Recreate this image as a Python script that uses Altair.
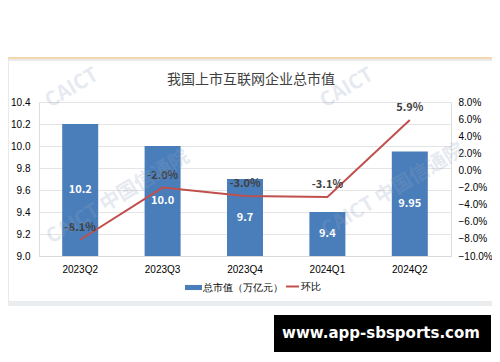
import altair as alt
import pandas as pd

# ---- data ----
quarters = ["2023Q2", "2023Q3", "2023Q4", "2024Q1", "2024Q2"]
market_cap = [10.2, 10.0, 9.7, 9.4, 9.95]
cap_labels = ["10.2", "10.0", "9.7", "9.4", "9.95"]
qoq = [-8.1, -2.0, -3.0, -3.1, 5.9]
qoq_labels = ["-8.1%", "-2.0%", "-3.0%", "-3.1%", "5.9%"]
left_ticks = [9.0, 9.2, 9.4, 9.6, 9.8, 10.0, 10.2, 10.4]
right_ticks = [-10, -8, -6, -4, -2, 0, 2, 4, 6, 8]
chart_title = "我国上市互联网企业总市值"
bar_series = "总市值（万亿元）"
line_series = "环比"
watermark_full = "CAICT 中国信通院"
watermark_part = "CAICT"
site_text = "www.app-sbsports.com"

BLUE = "#4a7ebb"
RED = "#c0504d"
FONT = "Noto Sans CJK SC"
W, H = 412, 154

df = pd.DataFrame({
    "quarter": quarters,
    "cap": market_cap,
    "cap_label": cap_labels,
    "qoq": qoq,
    "qoq_label": qoq_labels,
    "bar_series": [bar_series] * len(quarters),
    "line_series": [line_series] * len(quarters),
})

x_enc = alt.X("quarter:N", sort=quarters,
              scale=alt.Scale(paddingInner=0, paddingOuter=0),
              axis=alt.Axis(title=None, ticks=False, domainColor="#d9d9d9",
                            labelPadding=8, labelAngle=0))

base = alt.Chart(df)
cap_scale = alt.Scale(domain=[9.0, 10.4], zero=False, nice=False)
qoq_scale = alt.Scale(domain=[-10, 8], nice=False)

bars = base.mark_bar(size=36).encode(
    x=x_enc,
    y=alt.Y("cap:Q", scale=cap_scale,
            axis=alt.Axis(title=None, orient="left", values=left_ticks, format=".1f",
                          grid=True, gridColor="#e4e4e4", domain=False, ticks=False,
                          labelPadding=9)),
    y2=alt.datum(9.0),
    fill=alt.Fill("bar_series:N", scale=alt.Scale(domain=[bar_series], range=[BLUE]),
                  legend=alt.Legend(title=None, orient="none", legendX=146, legendY=177,
                                    symbolType="M-1,-0.3H1V0.3H-1Z", symbolSize=289,
                                    symbolStrokeWidth=0, labelOffset=1)),
)
bar_text = base.transform_calculate(mid="(datum.cap + 9.0) / 2").mark_text(
    color="white", fontWeight="bold", fontSize=11, font=FONT, baseline="middle"
).encode(
    x=x_enc,
    y=alt.Y("mid:Q", scale=cap_scale, axis=None),
    text="cap_label:N",
)

line = base.mark_line(strokeWidth=2).encode(
    x=x_enc,
    y=alt.Y("qoq:Q", scale=qoq_scale,
            axis=alt.Axis(title=None, orient="right", values=right_ticks,
                          labelExpr="format(datum.value, '.1f') + '%'",
                          grid=False, domain=False, ticks=False, labelPadding=7)),
    stroke=alt.Stroke("line_series:N", scale=alt.Scale(domain=[line_series], range=[RED]),
                      legend=alt.Legend(title=None, orient="none", legendX=246, legendY=177,
                                        symbolType="stroke", symbolSize=169,
                                        symbolStrokeWidth=2, labelOffset=1)),
)
line_text = base.mark_text(
    dy=-12, fontWeight="bold", fontSize=11, font=FONT, color="#404040"
).encode(x=x_enc, y=alt.Y("qoq:Q", scale=qoq_scale, axis=None), text="qoq_label:N")

# ---- decorations ----
one = alt.Chart(pd.DataFrame({"k": [0]}))
card = one.mark_rect(filled=False, stroke="#e3e3e3", strokeWidth=1.5).encode(
    x=alt.value(-31), x2=alt.value(460), y=alt.value(-42), y2=alt.value(200))
shadow = one.mark_rect(fill="#e9edf0").encode(
    x=alt.value(-31), x2=alt.value(460), y=alt.value(200), y2=alt.value(204))
top_rule = one.mark_rule(color="#f0c894", strokeWidth=1.5).encode(
    x=alt.value(-32), x2=alt.value(460), y=alt.value(-44))

wm = pd.DataFrame({
    "txt": [watermark_full, watermark_full, watermark_part, watermark_part],
    "px": [79, 354, 33, 308],
    "py": [95, 88, -14, -14],
})
watermarks = alt.Chart(wm).mark_text(
    angle=329, fontSize=20, fontWeight="bold", font=FONT, color="#8fa3bf", opacity=0.22
).encode(x=alt.X("px:Q", scale=None), y=alt.Y("py:Q", scale=None), text="txt:N")

site_box = one.mark_rect(fill="black").encode(
    x=alt.value(235), x2=alt.value(452), y=alt.value(213), y2=alt.value(250))
site = one.transform_calculate(t=f"'{site_text}'").mark_text(
    color="white", fontWeight="bold", fontSize=15, font="DejaVu Sans", baseline="middle"
).encode(x=alt.value(342), y=alt.value(231), text="t:N")

chart = alt.layer(
    card, shadow, top_rule, bars, bar_text, line, line_text, watermarks, site_box, site
).resolve_scale(y="independent").properties(
    width=W, height=H,
    padding={"left": 31, "top": 94, "right": 41, "bottom": 96},
    autosize=alt.AutoSizeParams(type="none"),
    title=alt.TitleParams(chart_title, fontSize=14, font=FONT, color="#404040",
                          fontWeight="normal", anchor="middle", offset=-30, dx=6),
).configure_view(stroke=None).configure_axis(
    labelFont=FONT, labelFontSize=10, labelColor="#595959"
).configure_legend(
    labelFont=FONT, labelFontSize=10.5, labelColor="#595959"
).configure(background="white")

chart.save("out.html", embed_options={"renderer": "svg", "actions": False})
